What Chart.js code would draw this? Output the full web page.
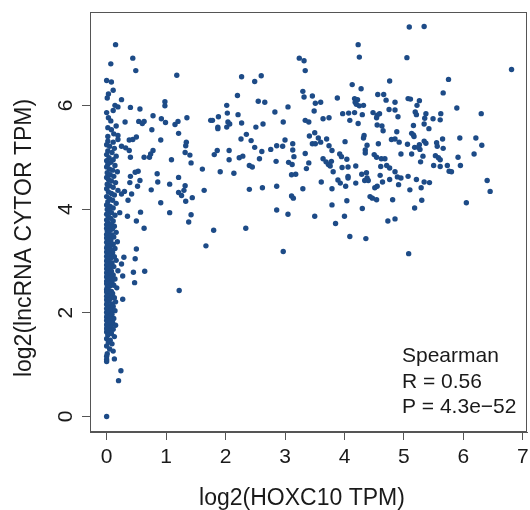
<!DOCTYPE html>
<html><head><meta charset="utf-8">
<script src="https://cdn.jsdelivr.net/npm/chart.js@4.4.1/dist/chart.umd.min.js"></script>
<style>html,body{margin:0;padding:0;background:#fff}</style>
</head><body>
<canvas id="c" width="530" height="510"></canvas>
<script>
const xTicks = [0,1,2,3,4,5,6,7];
const yTicks = [0,2,4,6];
const xTitle = 'log2(HOXC10 TPM)';
const yTitle = 'log2(lncRNA CYTOR TPM)';
const statLines = ['Spearman', 'R = 0.56', 'P = 4.3e\u221252'];

// samples with HOXC10 near zero (dense column)
const nearZeroPoints = [
[0.15,7.17],[0.07,6.80],[0.00,6.48],[0.08,6.45],[0.11,6.29],[0.03,6.22],[0.01,6.14],[0.14,6.00],[0.19,5.97],[0.11,5.90],
[0.00,5.86],[0.03,5.76],[0.07,5.70],[0.02,5.57],[0.08,5.53],[0.16,5.60],[0.12,5.45],[0.19,5.42],[0.02,5.40],[0.02,5.31],
[0.11,5.29],[0.19,5.34],[0.00,5.24],[0.05,5.21],[0.13,5.17],[0.02,5.12],[0.09,5.09],[0.00,5.05],[0.16,5.02],[0.04,4.99],
[0.11,4.95],[0.00,4.93],[0.07,4.90],[0.02,4.86],[0.14,4.84],[0.00,4.81],[0.05,4.77],[0.10,4.75],[0.18,4.72],[0.01,4.70],
[0.06,4.66],[0.12,4.63],[0.00,4.61],[0.03,4.57],[0.08,4.54],[0.15,4.51],[0.01,4.48],[0.05,4.45],[0.11,4.42],[0.00,4.39],
[0.19,4.36],[0.03,4.33],[0.08,4.30],[0.13,4.27],[0.00,4.24],[0.05,4.20],[0.10,4.17],[0.02,4.14],[0.16,4.11],[0.00,4.08],
[0.06,4.05],[0.11,4.02],[0.01,3.99],[0.04,3.96],[0.08,3.93],[0.00,3.90],[0.14,3.88],[0.03,3.85],[0.07,3.82],[0.00,3.79],
[0.11,3.77],[0.02,3.74],[0.08,3.71],[0.00,3.70],[0.13,3.67],[0.04,3.66],[0.00,3.63],[0.10,3.62],[0.06,3.59],[0.01,3.58],
[0.16,3.55],[0.03,3.54],[0.00,3.51],[0.09,3.50],[0.05,3.47],[0.12,3.46],[0.00,3.44],[0.02,3.41],[0.07,3.40],[0.18,3.37],
[0.00,3.36],[0.04,3.33],[0.11,3.32],[0.01,3.29],[0.06,3.28],[0.00,3.25],[0.14,3.24],[0.03,3.21],[0.08,3.20],[0.00,3.17],
[0.10,3.16],[0.02,3.13],[0.05,3.12],[0.00,3.09],[0.13,3.08],[0.07,3.05],[0.01,3.04],[0.16,3.01],[0.00,3.00],[0.04,2.97],
[0.09,2.96],[0.02,2.93],[0.00,2.92],[0.12,2.89],[0.06,2.88],[0.00,2.85],[0.03,2.84],[0.19,2.81],[0.08,2.80],[0.00,2.77],
[0.05,2.76],[0.11,2.73],[0.01,2.72],[0.00,2.69],[0.07,2.68],[0.14,2.65],[0.02,2.64],[0.00,2.61],[0.09,2.60],[0.04,2.57],
[0.00,2.56],[0.12,2.53],[0.06,2.52],[0.01,2.49],[0.17,2.48],[0.00,2.45],[0.03,2.44],[0.08,2.41],[0.00,2.40],[0.10,2.37],
[0.05,2.36],[0.02,2.33],[0.00,2.32],[0.13,2.29],[0.07,2.28],[0.00,2.25],[0.04,2.24],[0.15,2.21],[0.01,2.20],[0.09,2.17],
[0.00,2.16],[0.05,2.13],[0.11,2.12],[0.02,2.09],[0.00,2.08],[0.07,2.05],[0.14,2.04],[0.00,2.01],[0.03,2.00],[0.09,1.97],
[0.01,1.96],[0.05,1.93],[0.00,1.92],[0.12,1.89],[0.06,1.88],[0.00,1.85],[0.02,1.84],[0.10,1.81],[0.04,1.80],[0.00,1.77],
[0.15,1.76],[0.07,1.73],[0.01,1.72],[0.00,1.69],[0.11,1.68],[0.05,1.65],[0.00,1.63],[0.08,1.60],[0.02,1.57],[0.13,1.54],
[0.00,1.50],[0.06,1.47],[0.03,1.43],[0.09,1.40],[0.00,1.36],[0.05,1.30],[0.11,1.26],[0.01,1.21],[0.00,1.16],[0.13,1.11],
[0.00,1.10],[0.00,1.06],[0.00,0.00]
];

// remaining samples
const spreadPoints = [
[0.44,6.91],[0.49,6.67],[0.25,6.11],[0.98,6.07],[0.98,5.99],[0.40,5.96],[0.56,5.93],[0.78,5.80],[0.92,5.74],[0.99,5.67],
[0.31,5.68],[0.54,5.69],[0.60,5.65],[0.63,5.69],[0.76,5.53],[0.91,5.33],[0.38,5.33],[0.44,5.34],[0.50,5.39],[0.25,5.21],
[0.32,5.18],[0.38,5.13],[0.78,5.13],[0.74,5.06],[0.72,5.00],[0.63,5.00],[0.40,5.00],[0.53,4.73],[0.48,4.71],[0.40,4.63],
[0.85,4.68],[0.86,4.52],[0.56,4.55],[0.52,4.44],[0.39,4.51],[0.75,4.37],[0.30,4.34],[0.42,4.29],[0.25,4.29],[0.36,4.17],
[0.91,4.12],[0.57,3.94],[0.50,3.77],[0.35,3.86],[0.22,3.93],[0.63,3.63],[0.50,3.23],[0.48,3.04],[0.29,3.07],[0.25,2.94],
[0.64,2.80],[0.45,2.78],[0.47,2.58],[0.27,2.71],[0.27,2.26],[0.24,0.88],[0.20,0.69],[1.22,2.43],
[1.18,6.58],[2.27,6.55],[2.49,6.46],[2.60,6.57],[2.20,6.19],[2.02,6.00],[2.55,6.08],[2.66,6.06],[2.83,5.87],[3.05,5.97],
[1.20,5.69],[1.15,5.63],[1.35,5.76],[1.21,5.46],[1.75,5.71],[1.78,5.71],[1.88,5.78],[2.03,5.85],[2.04,5.68],[1.87,5.58],
[1.87,5.55],[2.02,5.58],[2.07,5.64],[2.21,5.82],[2.27,5.66],[2.51,5.58],[2.63,5.64],[2.97,5.68],[1.34,5.29],[1.33,5.22],
[1.32,5.09],[1.40,5.04],[1.42,4.89],[1.09,4.95],[2.26,5.35],[2.35,5.44],[2.43,5.32],[2.49,5.19],[2.61,5.11],[2.76,5.15],
[2.86,5.22],[2.96,5.21],[3.00,5.33],[1.86,5.13],[1.81,5.05],[2.06,5.13],[2.06,4.95],[2.23,4.99],[2.29,5.02],[2.57,4.97],
[2.85,4.92],[3.06,4.90],[2.40,4.84],[2.45,4.81],[1.61,4.77],[1.91,4.72],[2.14,4.69],[1.21,4.61],[1.06,4.48],[1.32,4.45],
[1.30,4.36],[1.21,4.32],[1.26,4.26],[1.33,4.15],[1.44,4.22],[1.64,4.36],[2.40,4.38],[2.62,4.41],[2.86,4.44],[1.06,3.93],
[1.42,3.89],[1.38,3.75],[2.86,3.98],[3.05,3.90],[1.80,3.59],[2.34,3.63],[1.67,3.29],[2.97,3.18],
[4.23,7.17],[4.25,6.93],[3.24,6.91],[3.32,6.86],[3.34,6.67],[4.76,6.47],[4.13,6.40],[4.28,6.32],[3.30,6.27],[3.32,6.16],
[3.46,6.18],[3.88,6.14],[4.17,6.13],[4.22,6.11],[4.18,6.06],[4.20,6.02],[4.25,5.99],[4.32,6.00],[4.56,6.21],[4.66,6.21],
[4.70,6.10],[4.85,6.06],[3.51,6.04],[3.60,6.06],[3.49,5.89],[4.75,5.92],[4.85,5.91],[3.97,5.84],[4.07,5.85],[4.17,5.86],
[4.30,5.82],[4.09,5.71],[4.23,5.65],[4.48,5.86],[4.55,5.81],[4.59,5.84],[4.54,5.76],[4.90,5.78],[3.34,5.71],[3.40,5.68],
[3.64,5.74],[3.74,5.76],[4.55,5.62],[4.63,5.60],[4.65,5.51],[4.88,5.49],[3.50,5.47],[3.41,5.41],[3.56,5.37],[3.60,5.29],
[3.46,5.26],[3.51,5.26],[3.70,5.35],[3.74,5.22],[3.79,5.13],[4.01,5.30],[4.33,5.42],[4.32,5.37],[4.38,5.23],[4.35,5.14],
[4.35,5.08],[4.57,5.26],[4.79,5.34],[4.85,5.35],[4.92,5.29],[3.13,5.26],[3.13,5.14],[3.15,5.01],[3.12,4.86],[3.34,5.07],
[3.40,4.89],[3.36,4.78],[3.11,4.66],[3.18,4.67],[3.64,4.97],[3.69,4.91],[3.73,4.86],[3.78,4.92],[3.76,4.83],[3.81,4.72],
[3.92,5.06],[3.95,5.01],[4.04,4.96],[3.96,4.80],[4.06,4.81],[4.19,4.83],[4.06,4.63],[4.06,4.60],[3.89,4.56],[3.93,4.50],
[4.02,4.44],[4.19,4.50],[4.29,4.67],[4.37,4.70],[4.38,4.60],[4.34,4.55],[4.40,4.55],[4.50,5.05],[4.54,5.00],[4.62,4.97],
[4.68,4.97],[4.61,4.82],[4.71,4.84],[4.76,4.79],[4.60,4.65],[4.64,4.52],[4.55,4.44],[4.51,4.41],[4.85,4.72],[4.89,4.62],
[4.76,4.57],[4.95,4.60],[4.91,4.47],[3.61,4.52],[3.30,4.39],[3.79,4.39],[3.11,4.25],[3.14,4.21],[4.43,4.24],[4.47,4.21],
[4.54,4.18],[4.81,4.18],[4.04,4.16],[3.79,4.08],[4.30,4.01],[3.50,3.86],[4.00,3.86],[4.73,3.77],[4.85,3.81],[3.85,3.72],
[4.09,3.47],[4.36,3.43],
[5.09,7.51],[5.34,7.52],[5.05,6.92],[6.81,6.69],[5.75,6.50],[5.66,6.24],[5.07,6.13],[5.11,6.12],[5.26,6.09],[5.22,6.00],
[5.89,5.95],[5.19,5.87],[5.21,5.82],[5.37,5.84],[5.35,5.75],[5.49,5.74],[5.61,5.72],[5.62,5.84],[6.30,5.84],[5.16,5.61],
[5.34,5.64],[5.42,5.55],[5.13,5.46],[5.17,5.40],[5.16,5.43],[5.06,5.25],[5.18,5.19],[5.26,5.24],[5.27,5.15],[5.24,5.19],
[5.34,5.31],[5.37,5.27],[5.55,5.28],[5.56,5.21],[5.65,5.35],[5.66,5.17],[5.94,5.37],[6.21,5.37],[6.31,5.23],[4.95,5.06],
[5.13,5.06],[5.32,5.02],[5.28,4.91],[5.53,5.03],[5.58,4.99],[5.61,4.95],[5.91,5.00],[6.18,5.06],[5.50,4.84],[5.61,4.82],
[5.73,4.84],[5.95,4.84],[5.76,4.73],[5.80,4.72],[5.07,4.63],[5.21,4.57],[5.34,4.52],[5.43,4.51],[5.10,4.37],[5.29,4.41],
[6.40,4.55],[6.45,4.34],[5.30,4.17],[5.18,4.02],[6.05,4.12],[5.08,3.14]
];

const dotColor = '#1d4b87';
const axisColor = '#555555';
const textColor = '#1a1a1a';
const tickFont = '21px "Liberation Sans", Arial, sans-serif';
const titleFont = '23px "Liberation Sans", Arial, sans-serif';
const statFont = '21px "Liberation Sans", Arial, sans-serif';

const decorPlugin = {
  id: 'decor',
  afterDraw(chart) {
    const ctx = chart.ctx, a = chart.chartArea;
    const xs = chart.scales.x, ys = chart.scales.y;
    ctx.save();
    ctx.strokeStyle = axisColor; ctx.lineWidth = 1;
    ctx.strokeRect(a.left + 0.5, a.top + 0.5, a.right - a.left - 1, a.bottom - a.top - 1);
    ctx.fillStyle = textColor;
    ctx.font = tickFont; ctx.textAlign = 'center'; ctx.textBaseline = 'alphabetic';
    xTicks.forEach(v => ctx.fillText(String(v), xs.getPixelForValue(v), a.bottom + 31));
    yTicks.forEach(v => {
      ctx.save(); ctx.translate(a.left - 18, ys.getPixelForValue(v)); ctx.rotate(-Math.PI/2);
      ctx.fillText(String(v), 0, 0); ctx.restore();
    });
    ctx.font = titleFont;
    ctx.fillText(xTitle, 302, 505);
    ctx.save(); ctx.translate(31, 238); ctx.rotate(-Math.PI/2); ctx.fillText(yTitle, 0, 0); ctx.restore();
    ctx.font = statFont; ctx.textAlign = 'left';
    statLines.forEach((t, i) => ctx.fillText(t, 402, 362 + i * 25.7));
    ctx.restore();
  }
};

const allPoints = nearZeroPoints.concat(spreadPoints).map(p => ({x: p[0], y: p[1]}));

new Chart(document.getElementById('c'), {
  type: 'scatter',
  data: { datasets: [{ data: allPoints, backgroundColor: dotColor, borderWidth: 0, pointRadius: 2.7, pointHoverRadius: 2.7 }] },
  options: {
    responsive: false, animation: false, events: [],
    layout: { padding: { left: 0, right: 3, top: 12, bottom: 0 } },
    plugins: { legend: { display: false }, tooltip: { enabled: false } },
    scales: {
      x: {
        type: 'linear', min: -0.28, max: 7.07,
        afterBuildTicks: s => { s.ticks = xTicks.map(v => ({ value: v })); },
        afterFit: s => { s.height = 78; },
        ticks: { display: false },
        grid: { drawOnChartArea: false, drawTicks: true, tickLength: 8, color: axisColor },
        border: { display: true, color: axisColor }
      },
      y: {
        type: 'linear', min: -0.3, max: 7.8,
        afterBuildTicks: s => { s.ticks = yTicks.map(v => ({ value: v })); },
        afterFit: s => { s.width = 90; },
        ticks: { display: false },
        grid: { drawOnChartArea: false, drawTicks: true, tickLength: 8, color: axisColor },
        border: { display: true, color: axisColor }
      }
    }
  },
  plugins: [decorPlugin]
});
</script>
</body></html>
